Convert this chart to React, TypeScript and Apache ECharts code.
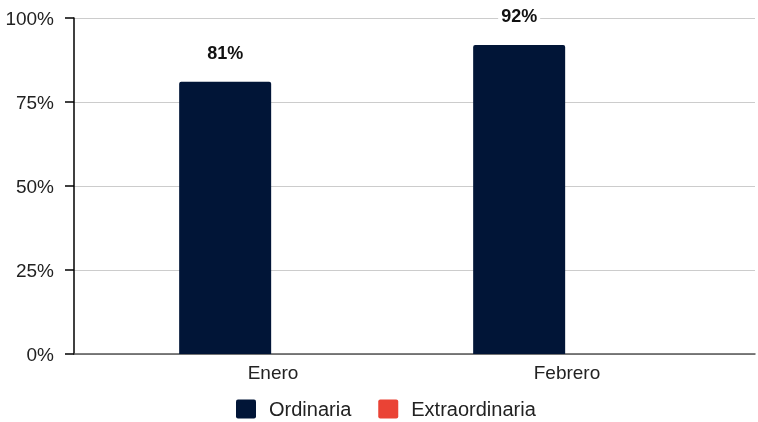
import React, { useEffect, useRef } from "react";
import * as echarts from "echarts";

const categories = ["Enero", "Febrero"];
const ordinaria = [81, 92];
const extraordinaria = [0, 0];
const yTicks = [0, 25, 50, 75, 100];

export default function App() {
  const ref = useRef<HTMLDivElement>(null);
  useEffect(() => {
    if (!ref.current) return;
    const chart = echarts.init(ref.current, null, { renderer: "svg" });
    const font = "Arial, 'Liberation Sans', sans-serif";
    chart.setOption({
      animation: false,
      textStyle: { fontFamily: font },
      grid: [
        { left: 74, right: 3, top: 18, bottom: 68 },
        { left: 126, right: 44, top: 18, bottom: 68 },
      ],
      legend: {
        top: 399,
        padding: 0,
        left: 236,
        itemWidth: 20,
        itemHeight: 19,
        itemGap: 27,
        icon: "path://M2,0 L18,0 Q20,0 20,2 L20,17 Q20,19 18,19 L2,19 Q0,19 0,17 L0,2 Q0,0 2,0 Z",
        textStyle: { fontSize: 20, color: "#222", fontFamily: font, padding: [0, 0, 0, 8] },
        data: ["Ordinaria", "Extraordinaria"],
      },
      xAxis: [
        {
          gridIndex: 0,
          type: "category",
          data: categories,
          axisLine: { show: true, lineStyle: { color: "#555", width: 1.5 } },
          axisTick: { show: false },
          axisLabel: { show: false },
          splitLine: { show: false },
        },
        {
          gridIndex: 1,
          type: "category",
          data: categories,
          axisLine: { show: false },
          axisTick: { show: false },
          axisLabel: { show: true, fontSize: 19, color: "#222", margin: 9, fontFamily: font },
          splitLine: { show: false },
        },
      ],
      yAxis: [
        {
          gridIndex: 0,
          type: "value",
          min: yTicks[0],
          max: yTicks[yTicks.length - 1],
          interval: 25,
          axisLine: { show: true, lineStyle: { color: "#000", width: 1.5 } },
          axisTick: { show: true, length: 9, lineStyle: { color: "#000", width: 1.5 } },
          axisLabel: { formatter: "{value}%", fontSize: 19, color: "#222", margin: 20, fontFamily: font },
          splitLine: { show: true, lineStyle: { color: "#ccc", width: 1 } },
        },
        {
          gridIndex: 1,
          type: "value",
          min: 0,
          max: 100,
          interval: 25,
          show: false,
          splitLine: { show: false },
        },
      ],
      series: [
        {
          name: "Ordinaria",
          type: "bar",
          xAxisIndex: 1,
          yAxisIndex: 1,
          data: ordinaria,
          barWidth: 92,
          barGap: "4%",
          itemStyle: { color: "#011537", borderRadius: [2, 2, 0, 0] },
          label: {
            show: true,
            position: "top",
            distance: 20,
            formatter: "{c}%",
            fontSize: 18,
            fontWeight: "bold",
            color: "#111",
            backgroundColor: "#fff",
            padding: [0, 3],
            fontFamily: font,
          },
        },
        {
          name: "Extraordinaria",
          type: "bar",
          xAxisIndex: 1,
          yAxisIndex: 1,
          data: extraordinaria,
          barWidth: 92,
          itemStyle: { color: "#EA4335", borderRadius: [2, 2, 0, 0] },
        },
      ],
    });
    return () => chart.dispose();
  }, []);
  return <div ref={ref} style={{ position: "fixed", left: 0, top: 0, width: 758, height: 422 }} />;
}
